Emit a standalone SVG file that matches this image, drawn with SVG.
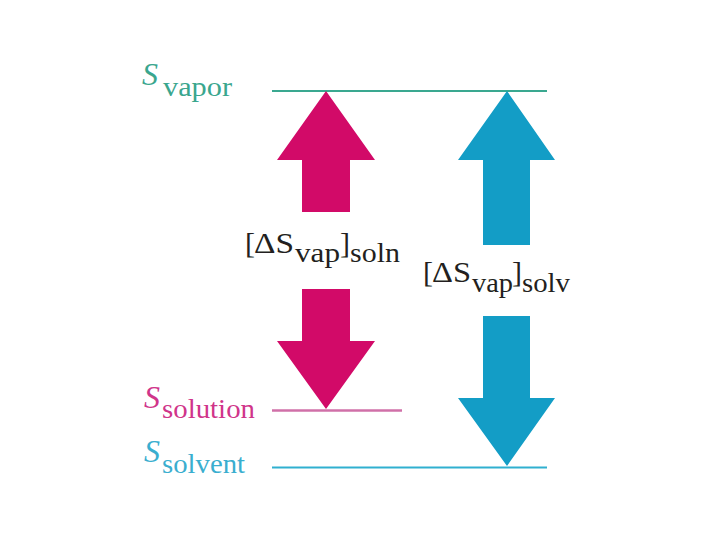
<svg xmlns="http://www.w3.org/2000/svg" width="720" height="540" viewBox="0 0 720 540">
  <style>
    .bigS { font-style: italic; font-size: 32px; }
    .sub { font-size: 27px; }
    .main { font-size: 30px; fill: #231f20; }
    .msub { font-size: 27px; fill: #231f20; }
  </style>
  <rect width="720" height="540" fill="#ffffff"/>
  <g id="connectors">
    <line id="line-vapor" x1="272" y1="91" x2="547" y2="91" stroke="#3aa890" stroke-width="2"/>
    <line id="line-solution" x1="272" y1="410.5" x2="402" y2="410.5" stroke="#d070a8" stroke-width="2.5"/>
    <line id="line-solvent" x1="272" y1="467.5" x2="547" y2="467.5" stroke="#30b0d0" stroke-width="2"/>
    <polygon id="arrow-soln-up" points="326,91 375,160 350,160 350,212 302,212 302,160 277,160" fill="#d20a68"/>
    <polygon id="arrow-soln-down" points="302,289 350,289 350,341 375,341 326,409 277,341 302,341" fill="#d20a68"/>
    <polygon id="arrow-solv-up" points="507,91 555,160 530,160 530,245 483,245 483,160 458,160" fill="#139dc6"/>
    <polygon id="arrow-solv-down" points="483,316 530,316 530,398 555,398 507,466 458,398 483,398" fill="#139dc6"/>
  </g>
  <g id="node-vapor" fill="#3aa68e">
    <text class="bigS" font-family="Liberation Serif" x="142" y="85">S</text>
    <text class="sub" font-family="Liberation Serif" x="163" y="96" textLength="69" lengthAdjust="spacingAndGlyphs">vapor</text>
  </g>
  <g id="node-solution" fill="#d0348a">
    <text class="bigS" font-family="Liberation Serif" x="144" y="408">S</text>
    <text class="sub" font-family="Liberation Serif" x="162" y="418" textLength="93" lengthAdjust="spacingAndGlyphs">solution</text>
  </g>
  <g id="node-solvent" fill="#3aaecf">
    <text class="bigS" font-family="Liberation Serif" x="144" y="462">S</text>
    <text class="sub" font-family="Liberation Serif" x="162" y="473" textLength="83" lengthAdjust="spacingAndGlyphs">solvent</text>
  </g>
  <g id="label-soln">
    <text class="main" font-family="Liberation Serif" x="245" y="253">[</text>
    <text class="main" font-family="Liberation Serif" x="254" y="253" textLength="40" lengthAdjust="spacingAndGlyphs">ΔS</text>
    <text class="msub" font-family="Liberation Serif" x="295" y="262" textLength="45" lengthAdjust="spacingAndGlyphs">vap</text>
    <text class="main" font-family="Liberation Serif" x="340" y="253">]</text>
    <text class="msub" font-family="Liberation Serif" x="350" y="262" textLength="50" lengthAdjust="spacingAndGlyphs">soln</text>
  </g>
  <g id="label-solv">
    <text class="main" font-family="Liberation Serif" x="423" y="282">[</text>
    <text class="main" font-family="Liberation Serif" x="432" y="282" textLength="39" lengthAdjust="spacingAndGlyphs">ΔS</text>
    <text class="msub" font-family="Liberation Serif" x="472" y="292" textLength="41" lengthAdjust="spacingAndGlyphs">vap</text>
    <text class="main" font-family="Liberation Serif" x="512" y="282">]</text>
    <text class="msub" font-family="Liberation Serif" x="522" y="292" textLength="48" lengthAdjust="spacingAndGlyphs">solv</text>
  </g>
</svg>
